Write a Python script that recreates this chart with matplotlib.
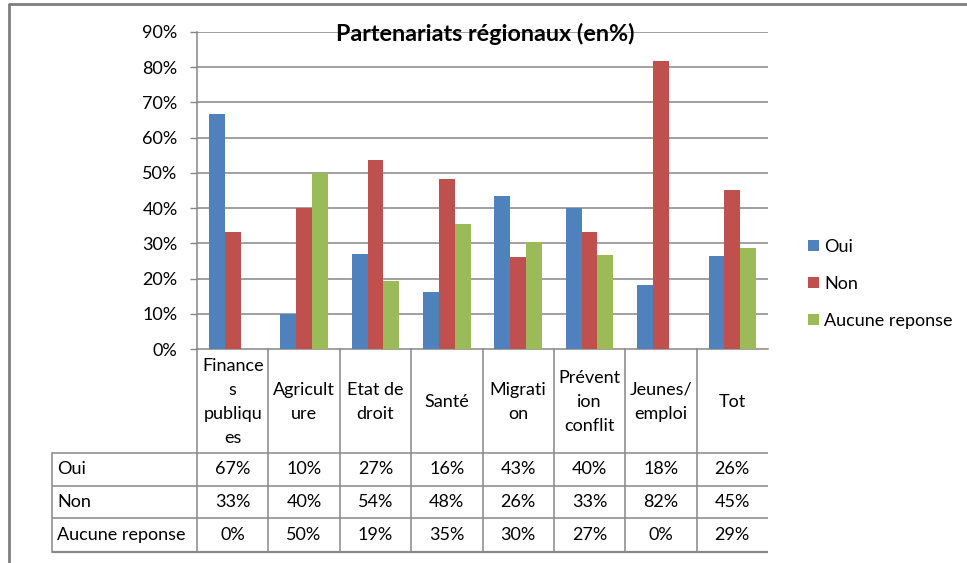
import matplotlib
matplotlib.use("Agg")
import matplotlib.pyplot as plt
from matplotlib.lines import Line2D
from matplotlib.patches import Patch
import numpy as np

plt.rcParams['font.family'] = ['Lato', 'DejaVu Sans']

# ---- data ----
categories = ["Finance\ns\npubliqu\nes", "Agricult\nure", "Etat de\ndroit", "Santé",
              "Migrati\non", "Prévent\nion\nconflit", "Jeunes/\nemploi", "Tot"]
series_names = ["Oui", "Non", "Aucune reponse"]
oui = [66.7, 10.0, 26.9, 16.1, 43.4, 40.0, 18.2, 26.4]
non = [33.3, 40.0, 53.8, 48.4, 26.1, 33.3, 81.8, 45.2]
aucune = [0.0, 50.0, 19.2, 35.4, 30.4, 26.7, 0.0, 28.7]
yticks = [0, 10, 20, 30, 40, 50, 60, 70, 80, 90]
title = "Partenariats régionaux (en%)"

colors = ["#4F81BD", "#C0504D", "#9BBB59"]
grid_c = "#868686"
line_c = "#888888"
FS = 13

W, H = 967, 563
fig = plt.figure(figsize=(W / 100, H / 100), dpi=100)

def fx(px):
    return px / W

def fy(py):
    return 1 - py / H

# chart axes
x0, x1, ytop, ybot = 197, 768, 32, 349
ax = fig.add_axes([fx(x0), fy(ybot), fx(x1 - x0), (ybot - ytop) / H])
n = len(categories)
x = np.arange(n)
w = 1 / 4.5
for i, (vals, c, lab) in enumerate(zip([oui, non, aucune], colors, series_names)):
    ax.bar(x + (i - 1) * w, vals, width=w, color=c, label=lab, zorder=3)
ax.set_xlim(-0.5, n - 0.5)
ax.set_ylim(0, 90)
ax.set_yticks(yticks)
ax.set_yticklabels([f"{t}%" for t in yticks], fontsize=FS)
ax.set_xticks([])
ax.tick_params(axis='y', length=5, width=1, color=grid_c, pad=9)
for t in yticks[1:]:
    ax.axhline(t, color=grid_c, lw=1.1, zorder=1)
for s in ["top", "right"]:
    ax.spines[s].set_visible(False)
ax.spines["left"].set_color(grid_c)
ax.spines["bottom"].set_color(grid_c)
ax.spines["left"].set_linewidth(1.1)
ax.spines["bottom"].set_linewidth(1.1)
ax.set_facecolor("none")

fig.text(fx(485), fy(34), title, ha="center", va="center", fontsize=16.8, fontweight="bold")

# table axes (shares category x scale)
tb_top, tb_bot = 349, 552
tab = fig.add_axes([fx(x0), fy(tb_bot), fx(x1 - x0), (tb_bot - tb_top) / H], sharex=ax)
tab.set_ylim(tb_bot, tb_top)
tab.axis("off")
px_per_cat = (x1 - x0) / n
label_left = -0.5 - (x0 - 52) / px_per_cat
row_lines = [453, 486, 518, 552]
for k, yy in enumerate(row_lines):
    tab.plot([label_left, n - 0.5], [yy, yy], color=line_c, lw=1.6 if k == 3 else 1.1,
             clip_on=False, solid_capstyle="butt")
tab.plot([label_left, label_left], [row_lines[0], row_lines[-1]], color=line_c, lw=1.1, clip_on=False)
for k in range(n):
    xb = k - 0.5
    tab.plot([xb, xb], [tb_top, tb_bot], color=line_c, lw=1.1, clip_on=False)
for k, cat in enumerate(categories):
    tab.text(k, (tb_top + row_lines[0]) / 2 + 1, cat, ha="center", va="center",
             fontsize=FS, linespacing=1.62)
for r, (name, vals) in enumerate(zip(series_names, [oui, non, aucune])):
    yc = (row_lines[r] + row_lines[r + 1]) / 2
    tab.text(label_left + 0.07, yc, name, ha="left", va="center", fontsize=FS, clip_on=False)
    for k, v in enumerate(vals):
        tab.text(k, yc, f"{v:.0f}%", ha="center", va="center", fontsize=FS)

# legend
handles = [Patch(facecolor=c, edgecolor="none") for c in colors]
fig.legend(handles, series_names, loc="center left", bbox_to_anchor=(fx(801), fy(284)),
           frameon=False, fontsize=FS, handlelength=0.58, handleheight=0.58,
           handletextpad=0.3, labelspacing=1.15, borderaxespad=0)

# outer frame
fig.add_artist(Line2D([fx(9), fx(9), 1.0], [0.0, fy(4), fy(4)], color="#7F7F7F", lw=2,
                      transform=fig.transFigure))

fig.savefig("out.png", dpi=100)
